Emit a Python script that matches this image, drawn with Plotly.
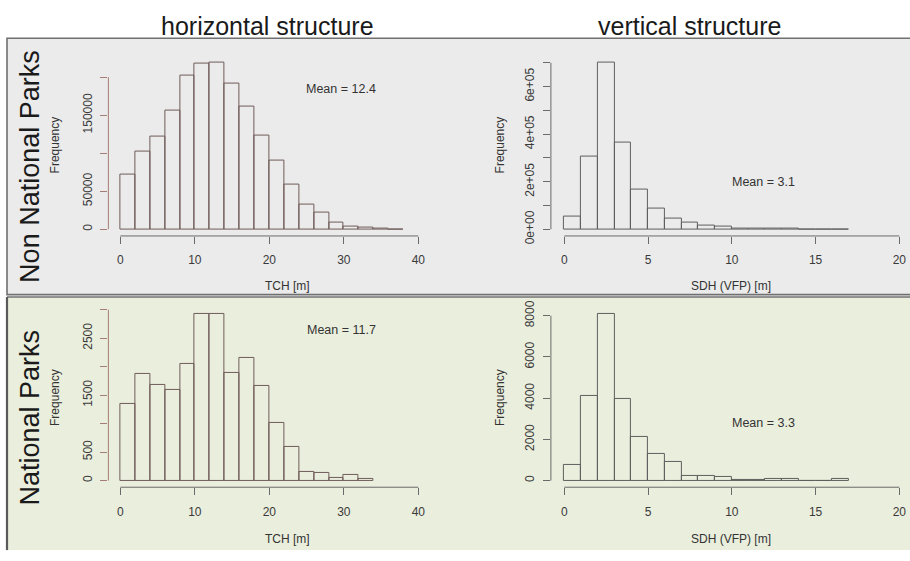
import plotly.graph_objects as go

W, H = 910, 561
FONT = "Liberation Sans, Arial, Helvetica, sans-serif"

# ---- data -------------------------------------------------------------
# TCH histograms: 2 m bins starting at 0
tch_bin_width = 2
tch_non_np = [72200, 102100, 122200, 156000, 202100, 217500, 219600, 191400,
              161500, 123500, 90100, 59400, 32900, 21400, 9400, 3800, 1700,
              500, 200]
tch_np = [1343, 1880, 1680, 1589, 2051, 2931, 2931, 1897, 2154, 1669, 1011,
          583, 154, 126, 40, 91, 23]

# SDH (VFP) histograms: 1 m bins starting at 0
sdh_bin_width = 1
sdh_non_np = [53000, 307000, 702000, 365000, 165000, 85000, 46000, 29000,
              14000, 9500, 5000, 2500, 2000, 1500, 300, 300, 300]
sdh_np = [741, 4114, 8103, 3941, 2113, 1293, 899, 205, 205, 173, 20, 10, 60,
          95, 5, 5, 60]

means = {"tl": "Mean = 12.4", "tr": "Mean = 3.1",
         "bl": "Mean = 11.7", "br": "Mean = 3.3"}

col_titles = ["horizontal structure", "vertical structure"]
row_titles = ["Non National Parks", "National Parks"]
x_titles = ["TCH [m]", "SDH (VFP) [m]"]

tch_xticks = [0, 10, 20, 30, 40]
sdh_xticks = [0, 5, 10, 15, 20]
tl_yticks = [0, 50000, 100000, 150000, 200000]
tl_ylabels = ["0", "50000", "", "150000", ""]
tr_yticks = [0, 100000, 200000, 300000, 400000, 500000, 600000, 700000]
tr_ylabels = ["0e+00", "", "2e+05", "", "4e+05", "", "6e+05", ""]
bl_yticks = [0, 500, 1000, 1500, 2000, 2500, 3000]
bl_ylabels = ["0", "500", "", "1500", "", "2500", ""]
br_yticks = [0, 2000, 4000, 6000, 8000]
br_ylabels = ["0", "2000", "4000", "6000", "8000"]

# ---- layout helpers ---------------------------------------------------
def x_domain(p_zero, p_end, v_end, pad):
    """Domain/range for an x axis given pixel positions of 0 and v_end."""
    k = (p_end - p_zero) / v_end
    r0, r1 = -pad, v_end + pad
    left = p_zero + r0 * k
    right = p_zero + r1 * k
    if right > W:
        right = W
        r1 = (W - p_zero) / k
    return [left / W, right / W], [r0, r1]


def y_domain(p_zero, p_max, vmax):
    """R-style 4 % extension around [0, vmax]."""
    span = p_zero - p_max
    bottom = p_zero + 0.04 * span
    top = p_max - 0.04 * span
    return [1 - bottom / H, 1 - top / H], [-0.04 * vmax, 1.04 * vmax]


fig = go.Figure()

BAR_LEFT = "#6f5c59"
BAR_RIGHT = "#5e5e5e"
AX_LEFT_Y = "#a47d74"
AX_GREY = "#6a6a6a"
TICK_FONT = dict(family=FONT, size=12, color="#3a3a3a")

panels = [
    # name, values, bin width, xaxis id, yaxis id, xticks, yticks, ylabels,
    # pixel anchors (x0 px, x-end px, x-end value, zero py, max py)
    ("tl", tch_non_np, tch_bin_width, "x", "y", tch_xticks, tl_yticks,
     tl_ylabels, (120.3, 418.3, 40, 229.0, 57.7), BAR_LEFT, AX_LEFT_Y),
    ("tr", sdh_non_np, sdh_bin_width, "x2", "y2", sdh_xticks, tr_yticks,
     tr_ylabels, (564.3, 899.3, 20, 229.0, 57.7), BAR_RIGHT, AX_GREY),
    ("bl", tch_np, tch_bin_width, "x3", "y3", tch_xticks, bl_yticks,
     bl_ylabels, (120.3, 418.3, 40, 486.7, 315.5), BAR_LEFT, AX_LEFT_Y),
    ("br", sdh_np, sdh_bin_width, "x4", "y4", sdh_xticks, br_yticks,
     br_ylabels, (564.3, 899.3, 20, 486.7, 315.5), BAR_RIGHT, AX_GREY),
]

shapes = []

# panel backgrounds and frames (drawn below the plots)
shapes.append(dict(type="rect", xref="paper", yref="paper",
                   x0=7 / W, x1=1.01, y0=1 - 296 / H, y1=1 - 33 / H,
                   fillcolor="#ebebeb", line=dict(color="#707070", width=1.6),
                   layer="below"))
shapes.append(dict(type="rect", xref="paper", yref="paper",
                   x0=7 / W, x1=1.01, y0=1 - 558 / H, y1=1 - 298.5 / H,
                   fillcolor="#eaeedd", line=dict(width=0), layer="below"))
shapes.append(dict(type="line", xref="paper", yref="paper",
                   x0=7 / W, x1=1.0, y0=1 - 298.5 / H, y1=1 - 298.5 / H,
                   line=dict(color="#707070", width=1.6), layer="below"))
shapes.append(dict(type="line", xref="paper", yref="paper",
                   x0=7 / W, x1=7 / W, y0=1 - 558 / H, y1=1 - 298.5 / H,
                   line=dict(color="#5a5a5a", width=2.2), layer="below"))

layout_axes = {}
for (name, vals, bw, xa, ya, xt, yt, yl, anc, bar_col, yax_col) in panels:
    centers = [i * bw + bw / 2 for i in range(len(vals))]
    fig.add_trace(go.Bar(
        x=centers, y=vals, width=[bw] * len(vals),
        marker=dict(color="rgba(0,0,0,0)", line=dict(color=bar_col, width=1)),
        xaxis=xa, yaxis=ya, hoverinfo="skip", showlegend=False))

    p0, p1, vend, pz, pm = anc
    xd, xr = x_domain(p0, p1, vend, 0.04 * vend)
    yd, yr = y_domain(pz, pm, max(vals))

    xkey = "xaxis" if xa == "x" else "xaxis" + xa[1:]
    ykey = "yaxis" if ya == "y" else "yaxis" + ya[1:]
    layout_axes[xkey] = dict(
        domain=xd, range=xr, anchor=ya, showgrid=False, zeroline=False,
        showline=False, ticks="outside", ticklen=7, tickcolor=AX_GREY,
        tickwidth=1, tickvals=xt, ticktext=[str(v) for v in xt],
        tickfont=TICK_FONT, ticklabelstandoff=6, fixedrange=True)
    layout_axes[ykey] = dict(
        domain=yd, range=yr, anchor=xa, showgrid=False, zeroline=False,
        showline=False, ticks="outside", ticklen=7, tickcolor=yax_col,
        tickwidth=1, tickvals=yt, ticktext=yl, tickangle=-90,
        tickfont=TICK_FONT, ticklabelstandoff=4, fixedrange=True)

    # R-style axis lines spanning first to last tick only
    shapes.append(dict(type="line", xref=xa, yref=ya + " domain",
                       x0=xt[0], x1=xt[-1], y0=0, y1=0,
                       line=dict(color=AX_GREY, width=1)))
    shapes.append(dict(type="line", xref=xa + " domain", yref=ya,
                       x0=0, x1=0, y0=yt[0], y1=yt[-1],
                       line=dict(color=yax_col, width=1)))


def ann(text, px, py, size, angle=0, color="#333333"):
    return dict(text=text, x=px / W, y=1 - py / H, xref="paper",
                yref="paper", xanchor="center", yanchor="middle",
                showarrow=False, textangle=angle,
                font=dict(family=FONT, size=size, color=color))


annotations = [
    ann(col_titles[0], 267.5, 20, 25, color="#1a1a1a"),
    ann(col_titles[1], 689, 20, 25, color="#1a1a1a"),
    ann(row_titles[0], 30, 165, 27, angle=-90, color="#1a1a1a"),
    ann(row_titles[1], 30, 422, 27, angle=-90, color="#1a1a1a"),
    ann("Frequency", 55, 143, 12, angle=-90),
    ann("Frequency", 500, 143, 12, angle=-90),
    ann("Frequency", 55, 402, 12, angle=-90),
    ann("Frequency", 500, 402, 12, angle=-90),
    ann(x_titles[0], 287.5, 287, 12),
    ann(x_titles[1], 730.8, 287, 12),
    ann(x_titles[0], 287.5, 546.7, 12),
    ann(x_titles[1], 730.8, 546.7, 12),
    ann(means["tl"], 341, 85, 12.5),
    ann(means["tr"], 763, 181, 12.5),
    ann(means["bl"], 341, 332.3, 12.5),
    ann(means["br"], 763, 427.7, 12.5),
]

fig.update_layout(
    width=W, height=H, autosize=False,
    margin=dict(l=0, r=0, t=0, b=0, pad=0),
    paper_bgcolor="white", plot_bgcolor="rgba(0,0,0,0)",
    bargap=0, barmode="overlay", showlegend=False,
    shapes=shapes, annotations=annotations,
    **layout_axes)

fig.write_html("out.html", config={"displayModeBar": False})
